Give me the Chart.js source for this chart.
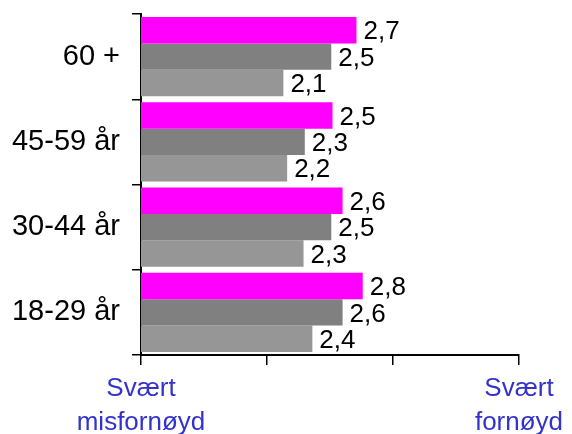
<!DOCTYPE html>
<html>
<head>
<meta charset="utf-8">
<script src="https://cdn.jsdelivr.net/npm/chart.js@4"></script>
<style>
  html, body { margin: 0; padding: 0; background: #ffffff; }
  #wrap { width: 572px; height: 434px; }
</style>
</head>
<body>
<div id="wrap"><canvas id="c" width="572" height="434"></canvas></div>
<script>
const categories = ['60 +', '45-59 år', '30-44 år', '18-29 år'];
const seriesA = [2.71, 2.52, 2.60, 2.76];
const seriesB = [2.51, 2.30, 2.51, 2.60];
const seriesC = [2.13, 2.16, 2.29, 2.36];
const axisLabelLow = ['Svært', 'misfornøyd'];
const axisLabelHigh = ['Svært', 'fornøyd'];

const fmt = v => v.toFixed(1).replace('.', ',');

const valueLabels = {
  id: 'valueLabels',
  afterDatasetsDraw(chart) {
    const ctx = chart.ctx;
    ctx.save();
    ctx.font = '26px "Liberation Sans", Arial, sans-serif';
    ctx.fillStyle = '#000';
    ctx.textAlign = 'left';
    ctx.textBaseline = 'middle';
    chart.data.datasets.forEach((ds, i) => {
      const meta = chart.getDatasetMeta(i);
      meta.data.forEach((bar, j) => {
        ctx.fillText(fmt(ds.data[j]), bar.x + 7, bar.y + 2);
      });
    });
    ctx.restore();
  }
};

new Chart(document.getElementById('c'), {
  type: 'bar',
  data: {
    labels: categories,
    datasets: [
      { data: seriesA, backgroundColor: '#FF00FF' },
      { data: seriesB, backgroundColor: '#808080' },
      { data: seriesC, backgroundColor: '#969696' }
    ]
  },
  options: {
    indexAxis: 'y',
    responsive: false,
    devicePixelRatio: 1,
    animation: false,
    layout: { padding: { left: 0, right: 53, top: 14, bottom: 0 } },
    plugins: { legend: { display: false }, tooltip: { enabled: false } },
    datasets: { bar: { categoryPercentage: 0.927, barPercentage: 1.0 } },
    scales: {
      x: {
        min: 1, max: 4,
        afterFit: s => { s.height = 79; },
        ticks: {
          stepSize: 1, autoSkip: false, maxRotation: 0,
          color: '#3333CC', padding: 7,
          font: { family: '"Liberation Sans", Arial, sans-serif', size: 26, lineHeight: 1.3 },
          callback: v => v === 1 ? axisLabelLow : (v === 4 ? axisLabelHigh : '')
        },
        grid: { drawOnChartArea: false, color: '#000', tickLength: 10, lineWidth: 1.5 },
        border: { color: '#000', width: 2 }
      },
      y: {
        afterFit: s => { s.width = 141; s.paddingTop = 0; s.paddingBottom = 0; },
        ticks: {
          color: '#000', padding: 12,
          font: { family: '"Liberation Sans", Arial, sans-serif', size: 29 }
        },
        grid: { offset: true, drawOnChartArea: false, color: '#000', tickLength: 9, lineWidth: 1.5 },
        border: { color: '#000', width: 2 }
      }
    }
  },
  plugins: [valueLabels]
});
</script>
</body>
</html>
